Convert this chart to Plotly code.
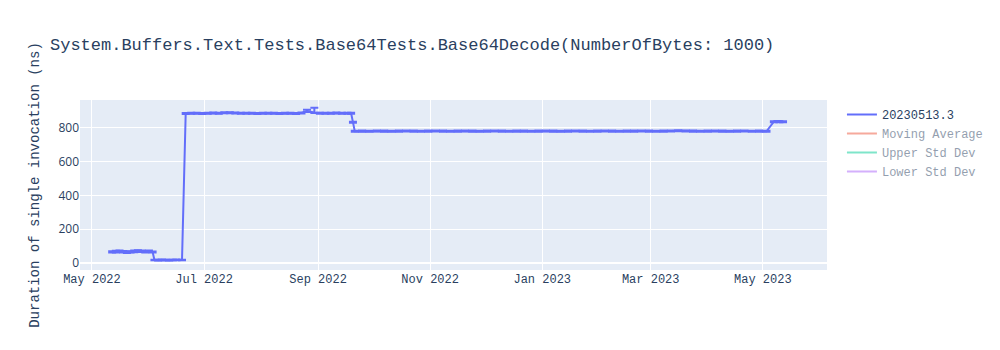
import plotly.graph_objects as go

title_text = "System.Buffers.Text.Tests.Base64Tests.Base64Decode(NumberOfBytes: 1000)"
y_title = "Duration of single invocation (ns)"
series_name = "20230513.3"
hidden_names = ["Moving Average", "Upper Std Dev", "Lower Std Dev"]

dates = [
    # early low level
    "2022-05-12", "2022-05-14", "2022-05-16", "2022-05-18", "2022-05-20", "2022-05-22",
    "2022-05-24", "2022-05-26", "2022-05-28", "2022-05-30", "2022-06-01", "2022-06-03",
    # very low level
    "2022-06-04", "2022-06-06", "2022-06-08", "2022-06-10", "2022-06-12", "2022-06-14",
    "2022-06-16", "2022-06-19",
    # high level
    "2022-06-21", "2022-06-24", "2022-06-27", "2022-06-30", "2022-07-03", "2022-07-06",
    "2022-07-09", "2022-07-12", "2022-07-15", "2022-07-18", "2022-07-21", "2022-07-24",
    "2022-07-27", "2022-07-30", "2022-08-02", "2022-08-05", "2022-08-08", "2022-08-11",
    "2022-08-14", "2022-08-17", "2022-08-20", "2022-08-23", "2022-08-26", "2022-08-30",
    "2022-09-02", "2022-09-05", "2022-09-08", "2022-09-11", "2022-09-14", "2022-09-17",
    "2022-09-19", "2022-09-20",
    # middle level
    "2022-09-21", "2022-09-25", "2022-09-29", "2022-10-03", "2022-10-07", "2022-10-11",
    "2022-10-15", "2022-10-19", "2022-10-23", "2022-10-27", "2022-10-31", "2022-11-04",
    "2022-11-08", "2022-11-12", "2022-11-16", "2022-11-20", "2022-11-24", "2022-11-28",
    "2022-12-02", "2022-12-06", "2022-12-10", "2022-12-14", "2022-12-18", "2022-12-22",
    "2022-12-26", "2022-12-30", "2023-01-03", "2023-01-07", "2023-01-11", "2023-01-15",
    "2023-01-19", "2023-01-23", "2023-01-27", "2023-01-31", "2023-02-04", "2023-02-08",
    "2023-02-12", "2023-02-16", "2023-02-20", "2023-02-24", "2023-02-28", "2023-03-04",
    "2023-03-08", "2023-03-12", "2023-03-16", "2023-03-20", "2023-03-24", "2023-03-28",
    "2023-04-01", "2023-04-05", "2023-04-09", "2023-04-13", "2023-04-17", "2023-04-21",
    "2023-04-25", "2023-04-29", "2023-05-03", "2023-05-07", "2023-05-09",
    # final level
    "2023-05-10", "2023-05-12", "2023-05-14", "2023-05-15",
]

durations = [
    66, 68, 70, 67, 64, 66, 69, 72, 70, 67, 70, 66,
    18, 17, 19, 18, 17, 18, 19, 18,
    884, 885, 886, 884, 886, 887, 885, 888, 889, 887, 886, 885,
    886, 884, 885, 886, 885, 884, 886, 885, 884, 887, 899, 890,
    886, 885, 886, 887, 885, 886, 886, 833,
    779, 780, 779, 781, 780, 779, 780, 781, 780, 779, 780, 781,
    780, 779, 780, 781, 780, 779, 780, 781, 780, 779, 780, 780,
    779, 780, 781, 780, 779, 780, 781, 780, 779, 780, 781, 780,
    779, 780, 780, 781, 780, 779, 780, 781, 782, 781, 780, 779,
    780, 781, 780, 779, 780, 781, 779, 780, 779,
    836, 837, 835, 836,
]

errors_up = [
    4, 5, 4, 5, 4, 4, 5, 4, 5, 4, 4, 3,
    2, 2, 2, 2, 2, 2, 2, 2,
    3, 3, 3, 3, 3, 3, 3, 3, 3, 3, 3, 3,
    3, 3, 3, 3, 3, 3, 3, 3, 3, 3, 8, 28,
    3, 3, 3, 3, 3, 3, 3, 3,
    3, 3, 3, 3, 3, 3, 3, 3, 3, 3, 3, 3,
    3, 3, 3, 3, 3, 3, 3, 3, 3, 3, 3, 3,
    3, 3, 3, 3, 3, 3, 3, 3, 3, 3, 3, 3,
    3, 3, 3, 3, 3, 3, 3, 3, 3, 3, 3, 3,
    3, 3, 3, 3, 3, 3, 3, 3, 3,
    3, 3, 3, 3,
]

errors_down = [
    4, 5, 4, 5, 4, 4, 5, 4, 5, 4, 4, 3,
    2, 2, 2, 2, 2, 2, 2, 2,
    3, 3, 3, 3, 3, 3, 3, 3, 3, 3, 3, 3,
    3, 3, 3, 3, 3, 3, 3, 3, 3, 3, 6, 3,
    3, 3, 3, 3, 3, 3, 3, 3,
    3, 3, 3, 3, 3, 3, 3, 3, 3, 3, 3, 3,
    3, 3, 3, 3, 3, 3, 3, 3, 3, 3, 3, 3,
    3, 3, 3, 3, 3, 3, 3, 3, 3, 3, 3, 3,
    3, 3, 3, 3, 3, 3, 3, 3, 3, 3, 3, 3,
    3, 3, 3, 3, 3, 3, 3, 3, 3,
    3, 3, 3, 3,
]

x_range = ["2022-04-24 12:00", "2023-06-04 22:00"]
y_range = [-41, 964]

mono = '"Liberation Mono", "Courier New", Courier, monospace'
sans = '"Open Sans", verdana, arial, sans-serif'

fig = go.Figure()
fig.add_trace(go.Scatter(
    x=dates, y=durations, mode="lines", name=series_name,
    line=dict(color="#636efa", width=2),
    error_y=dict(type="data", symmetric=False, array=errors_up, arrayminus=errors_down,
                 visible=True, width=4, thickness=2, color="#636efa"),
))
hidden_colors = ["#EF553B", "#00cc96", "#ab63fa"]
for nm, col in zip(hidden_names, hidden_colors):
    fig.add_trace(go.Scatter(x=dates, y=durations, mode="lines", name=nm,
                             line=dict(color=col), visible="legendonly"))

fig.update_layout(
    template="plotly",
    width=1000, height=350,
    font=dict(family=mono, size=12),
    title=dict(text=title_text, x=0.05, font=dict(family=mono, size=17)),
    xaxis=dict(range=x_range, type="date", tickfont=dict(family=mono)),
    yaxis=dict(range=y_range, title=dict(text=y_title, font=dict(family=mono)),
               tickfont=dict(family=sans)),
    legend=dict(font=dict(family=mono)),
)

fig.write_html("out.html")
